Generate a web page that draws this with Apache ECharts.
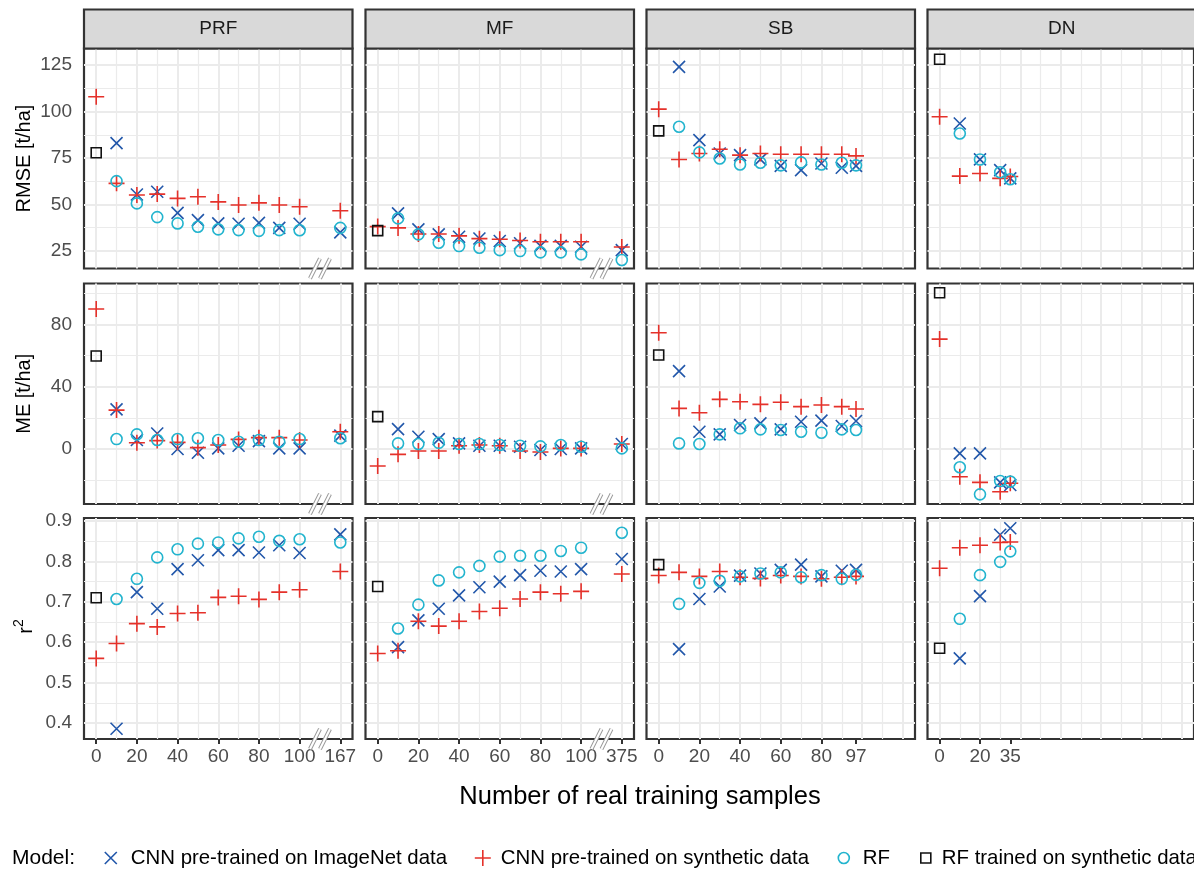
<!DOCTYPE html>
<html><head><meta charset="utf-8">
<script src="https://cdn.jsdelivr.net/npm/echarts@6/dist/echarts.min.js"></script>
<style>html,body{margin:0;padding:0;background:#fff}#c{width:1194px;height:870px}</style>
</head><body><div id="c"></div>
<script>
// ---------------- DATA ----------------
const panels = ['PRF', 'MF', 'SB', 'DN'];
const seriesNames = ['CNN pre-trained on ImageNet data', 'CNN pre-trained on synthetic data', 'RF', 'RF trained on synthetic data'];

// x positions (number of real training samples); 120 = broken-axis slot showing 167 (PRF) / 375 (MF)
const xSynPRF = [0, 10, 20, 30, 40, 50, 60, 70, 80, 90, 100, 120];
const xRealPRF = [10, 20, 30, 40, 50, 60, 70, 80, 90, 100, 120];
const xSynMF = [0, 10, 20, 30, 40, 50, 60, 70, 80, 90, 100, 120];
const xRealMF = [10, 20, 30, 40, 50, 60, 70, 80, 90, 100, 120];
const xSynSB = [0, 10, 20, 30, 40, 50, 60, 70, 80, 90, 97];
const xRealSB = [10, 20, 30, 40, 50, 60, 70, 80, 90, 97];
const xSynDN = [0, 10, 20, 30, 35];
const xRealDN = [10, 20, 30, 35];
const xRFsyn = [0];

// x tick positions and labels per column
const xTicksPRF = [0, 20, 40, 60, 80, 100, 120];
const xLabelsPRF = ['0', '20', '40', '60', '80', '100', '167'];
const xTicksMF = [0, 20, 40, 60, 80, 100, 120];
const xLabelsMF = ['0', '20', '40', '60', '80', '100', '375'];
const xTicksSB = [0, 20, 40, 60, 80, 97];
const xLabelsSB = ['0', '20', '40', '60', '80', '97'];
const xTicksDN = [0, 20, 35];
const xLabelsDN = ['0', '20', '35'];

// y ticks
const rmseTicks = [25, 50, 75, 100, 125];
const meTicks = [0, 40, 80];
const r2Ticks = [0.4, 0.5, 0.6, 0.7, 0.8, 0.9];
const r2TickLabels = ['0.4', '0.5', '0.6', '0.7', '0.8', '0.9'];

// RMSE [t/ha]
const rmsePRF_img = [83, 55.3, 56.8, 45.4, 41.5, 39.7, 39.5, 40.0, 37.3, 39.5, 34.9];
const rmsePRF_syn = [108, 61.3, 55, 55.5, 53.2, 54.1, 51.3, 49.6, 50.8, 49.6, 48.7, 46.5];
const rmsePRF_rf = [62.5, 50.5, 43.1, 39.7, 37.9, 36.5, 36.1, 35.7, 36.1, 36.0, 37.3];
const rmsePRF_rfs = [77.8];
const rmseMF_img = [45.1, 36.5, 33.8, 32.5, 31.6, 30.2, 29.0, 27.6, 27.6, 27.1, 25.3];
const rmseMF_syn = [38, 37.3, 34, 34, 33, 31.5, 31.2, 30.5, 29.8, 29.8, 29.8, 27];
const rmseMF_rf = [42.4, 33.8, 29.3, 27.5, 26.6, 25.3, 24.8, 24.1, 24.1, 23.0, 20.0];
const rmseMF_rfs = [35.8];
const rmseSB_img = [124.1, 84.6, 77.4, 76.5, 74.2, 70.7, 68.4, 72.0, 69.7, 70.7];
const rmseSB_syn = [101.3, 74.2, 77.4, 79.7, 76.5, 77.4, 77, 77, 77, 77, 76.1];
const rmseSB_rf = [91.8, 78.0, 74.7, 71.5, 72.4, 71.0, 72.6, 71.5, 72.4, 71.0];
const rmseSB_rfs = [89.6];
const rmseDN_img = [93.6, 74.2, 68.4, 64.0];
const rmseDN_syn = [97.2, 65.2, 66.6, 64.0, 65.0];
const rmseDN_rf = [88.2, 74.2, 67.3, 63.5];
const rmseDN_rfs = [128.2];

// ME [t/ha]
const mePRF_img = [25.5, 5.8, 10, 0, -2.4, 0.4, 2.1, 5.1, 0.4, 0.4, 8.6];
const mePRF_syn = [89.9, 25, 4, 5.4, 4.3, 0.9, 2.6, 6.2, 7.3, 7.3, 5.8, 11.1];
const mePRF_rf = [6.4, 9.4, 5.8, 6.4, 6.9, 5.8, 4.7, 5.8, 4.7, 6.4, 6.9];
const mePRF_rfs = [59.7];
const meMF_img = [12.8, 7.9, 6.4, 3.6, 2.1, 2.1, 1.5, -0.6, 0, 0.4, 3.2];
const meMF_syn = [-10.9, -3.4, -1.3, -1.3, 2.1, 2.6, 2.1, -1.3, -1.9, 0.4, 0.4, 3.2];
const meMF_rf = [3.6, 3.2, 4.0, 3.2, 3.2, 2.6, 2.1, 1.7, 2.6, 1.5, 0.4];
const meMF_rfs = [20.8];
const meSB_img = [50, 11.1, 9.4, 15.4, 16.5, 12.6, 17.5, 18.2, 14.8, 18];
const meSB_syn = [74.7, 26.1, 23.3, 31.9, 30.4, 28.7, 30, 27.2, 28.3, 27.2, 25.7];
const meSB_rf = [3.6, 3.2, 9.4, 13.3, 12.6, 12.2, 11.1, 10.5, 12.6, 12.2];
const meSB_rfs = [60.4];
const meDN_img = [-2.8, -2.8, -21.4, -23.1];
const meDN_syn = [70.6, -17.8, -21.4, -27.4, -22];
const meDN_rf = [-11.7, -29.1, -20.5, -20.9];
const meDN_rfs = [100.4];

// r^2
const r2PRF_img = [0.386, 0.724, 0.683, 0.781, 0.803, 0.828, 0.828, 0.822, 0.840, 0.821, 0.867];
const r2PRF_syn = [0.560, 0.597, 0.646, 0.638, 0.671, 0.673, 0.711, 0.714, 0.706, 0.724, 0.730, 0.775];
const r2PRF_rf = [0.707, 0.757, 0.810, 0.830, 0.844, 0.847, 0.857, 0.861, 0.851, 0.855, 0.847];
const r2PRF_rfs = [0.710];
const r2MF_img = [0.588, 0.654, 0.683, 0.716, 0.736, 0.750, 0.766, 0.777, 0.775, 0.781, 0.806];
const r2MF_syn = [0.572, 0.579, 0.652, 0.640, 0.652, 0.676, 0.684, 0.707, 0.724, 0.720, 0.726, 0.769];
const r2MF_rf = [0.634, 0.693, 0.753, 0.773, 0.789, 0.812, 0.814, 0.814, 0.826, 0.834, 0.871];
const r2MF_rfs = [0.738];
const r2SB_img = [0.583, 0.707, 0.738, 0.765, 0.770, 0.779, 0.792, 0.763, 0.777, 0.779];
const r2SB_syn = [0.765, 0.773, 0.763, 0.775, 0.761, 0.758, 0.765, 0.763, 0.757, 0.761, 0.763];
const r2SB_rf = [0.695, 0.747, 0.752, 0.763, 0.770, 0.773, 0.761, 0.766, 0.757, 0.767];
const r2SB_rfs = [0.792];
const r2DN_img = [0.560, 0.714, 0.866, 0.882];
const r2DN_syn = [0.783, 0.834, 0.840, 0.847, 0.848];
const r2DN_rf = [0.658, 0.766, 0.799, 0.825];
const r2DN_rfs = [0.585];

// ---------------- ASSEMBLY ----------------
const FONT = '"Liberation Sans", Arial, Helvetica, sans-serif';
const colLeft = [84, 365.5, 646.5, 927.5], colW = 268.5;
const rowTop = [48.5, 283.5, 518], rowH = [220, 220.5, 221];
const yMinV = [15.4, -35.3, 0.3605], yMaxV = [134, 106.3, 0.9075];
const yTickSets = [rmseTicks, meTicks, r2Ticks];
const yTickLabelSets = [rmseTicks.map(String), meTicks.map(String), r2TickLabels];
const yGridSets = [
  {major: rmseTicks, minor: [37.5, 62.5, 87.5, 112.5]},
  {major: [0, 40, 80], minor: [-20, 20, 60, 100]},
  {major: r2Ticks, minor: [0.45, 0.55, 0.65, 0.75, 0.85]}
];
const xTickSets = [xTicksPRF, xTicksMF, xTicksSB, xTicksDN];
const xLabelSets = [xLabelsPRF, xLabelsMF, xLabelsSB, xLabelsDN];
const xGridMajor = [0, 20, 40, 60, 80, 100, 120];
const xGridMinorFull = [10, 30, 50, 70, 90, 110];
const xGridMinorBroken = [10, 30, 50, 70, 90];

const xSets = [
  {syn: xSynPRF, real: xRealPRF}, {syn: xSynMF, real: xRealMF},
  {syn: xSynSB, real: xRealSB}, {syn: xSynDN, real: xRealDN}
];
const dataSets = [
  [ [rmsePRF_img, rmsePRF_syn, rmsePRF_rf, rmsePRF_rfs], [rmseMF_img, rmseMF_syn, rmseMF_rf, rmseMF_rfs],
    [rmseSB_img, rmseSB_syn, rmseSB_rf, rmseSB_rfs], [rmseDN_img, rmseDN_syn, rmseDN_rf, rmseDN_rfs] ],
  [ [mePRF_img, mePRF_syn, mePRF_rf, mePRF_rfs], [meMF_img, meMF_syn, meMF_rf, meMF_rfs],
    [meSB_img, meSB_syn, meSB_rf, meSB_rfs], [meDN_img, meDN_syn, meDN_rf, meDN_rfs] ],
  [ [r2PRF_img, r2PRF_syn, r2PRF_rf, r2PRF_rfs], [r2MF_img, r2MF_syn, r2MF_rf, r2MF_rfs],
    [r2SB_img, r2SB_syn, r2SB_rf, r2SB_rfs], [r2DN_img, r2DN_syn, r2DN_rf, r2DN_rfs] ]
];

const BLUE = '#2257AA', RED = '#E5312A', CYAN = '#22B4CE', BLACK = '#111111';
const symDefs = [
  {symbol: 'path://M0,0L1,1M1,0L0,1', size: 12, color: BLUE},
  {symbol: 'path://M0.5,0L0.5,1M0,0.5L1,0.5', size: 16, color: RED},
  {symbol: 'circle', size: 11, color: CYAN},
  {symbol: 'path://M0,0L1,0L1,1L0,1Z', size: 10, color: BLACK}
];
// legend layout: icon centre x and text start x for each entry
const legendIconX = [110, 482, 843, 925];
const legendTextX = [130, 500, 862, 941];

function pairs(xs, ys) { return ys.map((v, i) => [xs[i], v]); }
function lookup(vals, labels, v) {
  for (let i = 0; i < vals.length; i++) if (Math.abs(vals[i] - v) < 1e-6) return labels[i];
  return '';
}

const option = {
  animation: false,
  backgroundColor: '#ffffff',
  textStyle: {fontFamily: FONT},
  grid: [], xAxis: [], yAxis: [], series: [],
  legend: seriesNames.map((n, k) => {
    const s = symDefs[k].size;
    return {
      left: legendIconX[k] - s / 2, top: 848,
      itemWidth: 2 * (legendTextX[k] - legendIconX[k] - 5), itemHeight: s,
      selectedMode: false, padding: 0,
      textStyle: {fontSize: 20.4, color: '#000', fontFamily: FONT},
      data: [{name: n, icon: symDefs[k].symbol,
        itemStyle: {color: 'rgba(0,0,0,0)', borderColor: symDefs[k].color, borderWidth: 1.6}}]
    };
  }),
  graphic: {elements: []}
};

for (let r = 0; r < 3; r++) {
  for (let c = 0; c < 4; c++) {
    const gi = r * 4 + c;
    const isBottom = r === 2, isLeft = c === 0;
    option.grid.push({left: colLeft[c], top: rowTop[r], width: colW, height: rowH[r],
      show: true, backgroundColor: '#fff', borderColor: '#333333', borderWidth: 2.2, containLabel: false});
    const xt = xTickSets[c], xl = xLabelSets[c];
    option.xAxis.push({
      gridIndex: gi, type: 'value', min: -6, max: 126,
      axisLine: {show: false}, splitLine: {show: false},
      axisTick: {show: isBottom, customValues: xt, length: 5, lineStyle: {color: '#333333', width: 2}},
      axisLabel: {show: isBottom, customValues: xt, margin: 8, color: '#4D4D4D', fontSize: 19, fontFamily: FONT,
        formatter: v => lookup(xt, xl, v)}
    });
    const yt = yTickSets[r], yl = yTickLabelSets[r];
    option.yAxis.push({
      gridIndex: gi, type: 'value', min: yMinV[r], max: yMaxV[r],
      axisLine: {show: false}, splitLine: {show: false},
      axisTick: {show: isLeft, customValues: yt, length: 5, lineStyle: {color: '#333333', width: 2}},
      axisLabel: {show: isLeft, customValues: yt, margin: 12, color: '#4D4D4D', fontSize: 19, fontFamily: FONT,
        formatter: v => lookup(yt, yl, v)}
    });
    // background grid lines (drawn through axes via markLine)
    const xMinor = (c < 2) ? xGridMinorBroken : xGridMinorFull;
    const ml = [];
    xGridMajor.forEach(v => ml.push({xAxis: v, lineStyle: {width: 2}}));
    xMinor.forEach(v => ml.push({xAxis: v, lineStyle: {width: 1.2}}));
    yGridSets[r].major.forEach(v => ml.push({yAxis: v, lineStyle: {width: 2}}));
    yGridSets[r].minor.forEach(v => ml.push({yAxis: v, lineStyle: {width: 1.2}}));
    option.series.push({
      type: 'scatter', xAxisIndex: gi, yAxisIndex: gi, data: [], silent: true, z: 1,
      markLine: {silent: true, z: 1, symbol: ['none', 'none'], label: {show: false}, animation: false,
        emphasis: {disabled: true},
        lineStyle: {color: '#EBEBEB', type: 'solid', width: 2}, data: ml}
    });
    const xs = xSets[c];
    const xsFor = [xs.real, xs.syn, xs.real, xRFsyn];
    for (let k = 0; k < 4; k++) {
      const sd = symDefs[k];
      option.series.push({
        name: seriesNames[k], type: 'scatter', xAxisIndex: gi, yAxisIndex: gi, z: 3,
        symbol: sd.symbol, symbolSize: sd.size,
        itemStyle: {color: 'rgba(0,0,0,0)', borderColor: sd.color, borderWidth: 1.6, opacity: 1},
        emphasis: {disabled: true},
        data: pairs(xsFor[k], dataSets[r][c][k])
      });
    }
  }
}

const G = option.graphic.elements;
// strips
for (let c = 0; c < 4; c++) {
  G.push({type: 'rect', shape: {x: colLeft[c], y: 9.5, width: colW, height: 39},
    style: {fill: '#D9D9D9', stroke: '#333333', lineWidth: 2.2}, z: 10, silent: true});
  G.push({type: 'text', x: colLeft[c] + colW / 2, y: 29, z: 11, silent: true,
    style: {text: panels[c], fill: '#1A1A1A', font: '19px ' + FONT, align: 'center', verticalAlign: 'middle'}});
}
// y titles
const yTitleY = [rowTop[0] + rowH[0] / 2, rowTop[1] + rowH[1] / 2, rowTop[2] + rowH[2] / 2];
G.push({type: 'text', x: 24, y: yTitleY[0], rotation: Math.PI / 2, z: 11, silent: true,
  style: {text: 'RMSE [t/ha]', fill: '#000', font: '20px ' + FONT, align: 'center', verticalAlign: 'middle'}});
G.push({type: 'text', x: 24, y: yTitleY[1], rotation: Math.PI / 2, z: 11, silent: true,
  style: {text: 'ME [t/ha]', fill: '#000', font: '20px ' + FONT, align: 'center', verticalAlign: 'middle'}});
G.push({type: 'text', x: 24, y: yTitleY[2] - 2, rotation: Math.PI / 2, z: 11, silent: true,
  style: {text: '{a|r}{b|2}', align: 'center', verticalAlign: 'middle',
    rich: {a: {fontSize: 20, fontFamily: FONT, fill: '#000', lineHeight: 24, verticalAlign: 'bottom'},
           b: {fontSize: 14, fontFamily: FONT, fill: '#000', lineHeight: 24, verticalAlign: 'top', padding: [0, 0, 8, 0]}}}});
// x title
G.push({type: 'text', x: 640, y: 797, z: 11, silent: true,
  style: {text: 'Number of real training samples', fill: '#000', font: '25.5px ' + FONT, align: 'center', verticalAlign: 'middle'}});
// legend title
G.push({type: 'text', x: 12, y: 858, z: 11, silent: true,
  style: {text: 'Model:', fill: '#000', font: '21px ' + FONT, align: 'left', verticalAlign: 'middle'}});

const chart = echarts.init(document.getElementById('c'), null, {renderer: 'canvas', width: 1194, height: 870});
chart.setOption(option);

// broken-axis marks on PRF and MF panels (at x = 110 on the bottom border)
for (let r = 0; r < 3; r++) {
  for (let c = 0; c < 2; c++) {
    const gi = r * 4 + c;
    const p = chart.convertToPixel({gridIndex: gi}, [110, yMinV[r]]);
    [-5, 5].forEach(dx => {
      const shape = {x1: p[0] + dx - 5, y1: p[1] + 10, x2: p[0] + dx + 5, y2: p[1] - 10};
      G.push({type: 'line', shape: shape, z: 20, silent: true, style: {stroke: '#9a9a9a', lineWidth: 4}});
      G.push({type: 'line', shape: shape, z: 21, silent: true, style: {stroke: '#ffffff', lineWidth: 2}});
    });
  }
}
chart.setOption({graphic: {elements: G}});
</script>
</body></html>
